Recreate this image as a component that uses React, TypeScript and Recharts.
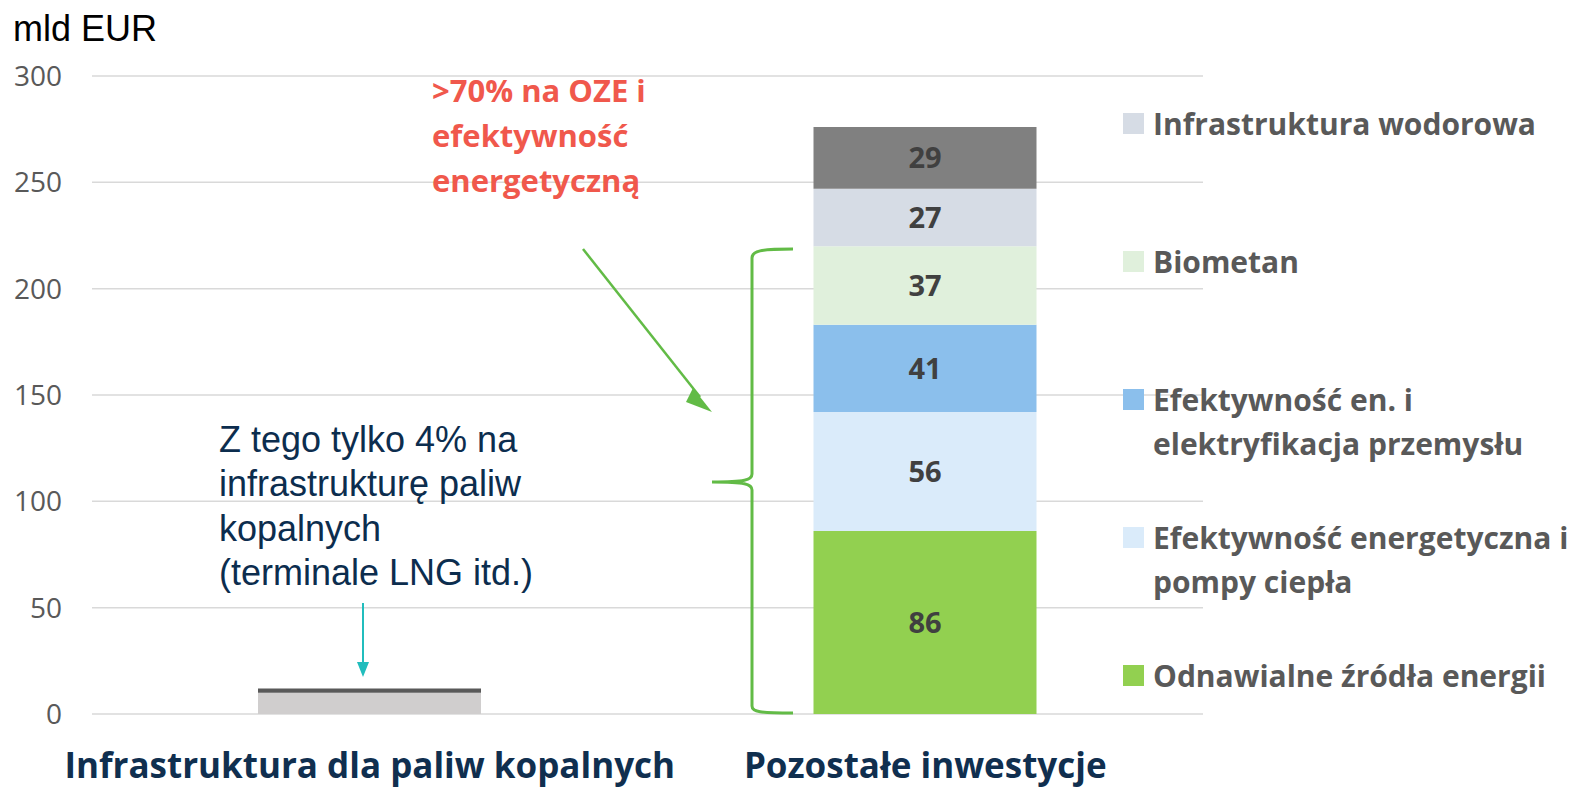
import React from 'react';
import { BarChart, Bar, XAxis, YAxis, CartesianGrid, Legend, LabelList } from 'recharts';

// categories and values (mld EUR)
const categories = ['Infrastruktura dla paliw kopalnych', 'Pozostałe inwestycje'];
const fossilBase = [10, null];
const fossilTop = [2, null];
const oze = [null, 86];
const pompy = [null, 56];
const przemysl = [null, 41];
const biometan = [null, 37];
const wodor = [null, 27];
const inne = [null, 29];
const yTicks = [0, 50, 100, 150, 200, 250, 300];

const seriesNames: Record<string, string> = {
  fossilBase: 'Infrastruktura paliw kopalnych',
  fossilTop: 'Infrastruktura paliw kopalnych (reszta)',
  oze: 'Odnawialne źródła energii',
  pompy: 'Efektywność energetyczna i\npompy ciepła',
  przemysl: 'Efektywność en. i\nelektryfikacja przemysłu',
  biometan: 'Biometan',
  wodor: 'Infrastruktura wodorowa',
  inne: 'Pozostałe',
};

const colors: Record<string, string> = {
  fossilBase: '#D0CECE',
  fossilTop: '#595959',
  oze: '#92D050',
  pompy: '#DAEBFA',
  przemysl: '#8BBFEC',
  biometan: '#E0F0DC',
  wodor: '#D6DCE5',
  inne: '#808080',
};

const stackOrder = ['fossilBase', 'fossilTop', 'oze', 'pompy', 'przemysl', 'biometan', 'wodor', 'inne'];
const legendOrder = ['wodor', 'biometan', 'przemysl', 'pompy', 'oze'];
const labelled = ['oze', 'pompy', 'przemysl', 'biometan', 'wodor', 'inne'];

const data = categories.map((name, i) => ({
  name,
  fossilBase: fossilBase[i],
  fossilTop: fossilTop[i],
  oze: oze[i],
  pompy: pompy[i],
  przemysl: przemysl[i],
  biometan: biometan[i],
  wodor: wodor[i],
  inne: inne[i],
}));

const segmentLabel = (props: any) => {
  const { x, y, width, height, value } = props;
  if (value == null) return null;
  return (
    <text
      x={x + width / 2}
      y={y + height / 2}
      dy="0.36em"
      textAnchor="middle"
      fill="#404040"
      fontFamily="Open Sans"
      fontWeight={700}
      fontSize={29}
    >
      {value}
    </text>
  );
};

const renderLegend = () => (
  <div style={{ fontFamily: 'Open Sans', fontWeight: 700, fontSize: 30, color: '#595959' }}>
    {legendOrder.map((k) => (
      <div key={k} style={{ display: 'flex', height: 138 }}>
        <div style={{ width: 21, height: 21, background: colors[k], marginTop: 11, marginRight: 9, flex: 'none' }} />
        <div style={{ lineHeight: '44px', whiteSpace: 'pre' }}>{seriesNames[k]}</div>
      </div>
    ))}
  </div>
);

export default function App() {
  return (
    <div style={{ position: 'absolute', left: 0, top: 0, width: 1585, height: 788, overflow: 'hidden', background: '#fff' }}>
      <BarChart
        width={1585}
        height={788}
        data={data}
        margin={{ top: 76, right: 382, bottom: 14, left: 12 }}
      >
        <CartesianGrid vertical={false} stroke="#D9D9D9" strokeWidth={1.5} />
        <XAxis
          dataKey="name"
          axisLine={false}
          tickLine={false}
          height={60}
          tickMargin={33}
          interval={0}
          tick={{ fontSize: 35, fontWeight: 700, fill: '#102F4F', fontFamily: 'Open Sans' }}
        />
        <YAxis
          domain={[0, 300]}
          ticks={yTicks}
          width={80}
          axisLine={false}
          tickLine={false}
          tickMargin={24}
          tick={{ fontSize: 28, fill: '#595959', fontFamily: 'Open Sans' }}
        />
        <Legend
          layout="horizontal"
          align="center"
          verticalAlign="middle"
          content={renderLegend}
          wrapperStyle={{ left: 1123, top: 102, width: 462, height: 640 }}
        />
        {stackOrder.map((k) => (
          <Bar
            key={k}
            dataKey={k}
            name={seriesNames[k]}
            stackId="a"
            fill={colors[k]}
            barSize={223}
            legendType={legendOrder.includes(k) ? 'square' : 'none'}
            isAnimationActive={false}
          >
            {labelled.includes(k) && <LabelList dataKey={k} content={segmentLabel} />}
          </Bar>
        ))}
      </BarChart>

      {/* annotations */}
      <svg width={1585} height={788} style={{ position: 'absolute', left: 0, top: 0, pointerEvents: 'none' }}>
        <text x={13} y={41} fontFamily="Liberation Sans, Arial" fontSize={36} fill="#000">mld EUR</text>

        <text fontFamily="Open Sans" fontWeight={700} fontSize={31} fill="#F0584C">
          <tspan x={432} y={102}>&gt;70% na OZE i</tspan>
          <tspan x={432} y={147}>efektywność</tspan>
          <tspan x={432} y={192}>energetyczną</tspan>
        </text>

        <text fontFamily="Liberation Sans, Arial" fontSize={36} fill="#0C2D4E">
          <tspan x={219} y={452}>Z tego tylko 4% na</tspan>
          <tspan x={219} y={496}>infrastrukturę paliw</tspan>
          <tspan x={219} y={541}>kopalnych</tspan>
          <tspan x={219} y={585}>(terminale LNG itd.)</tspan>
        </text>

        <line x1={583} y1={249} x2={700} y2={397} stroke="#62BB46" strokeWidth={2.5} />
        <path d="M 693 388 L 712 412 L 686 402 Z" fill="#62BB46" />

        <path
          d="M 793 249 C 760 249, 752 251, 752 258 L 752 474 C 752 480, 745 482, 712 482 C 745 482, 752 484, 752 490 L 752 706 C 752 712, 760 713, 793 713"
          fill="none"
          stroke="#62BB46"
          strokeWidth={3}
        />

        <line x1={363} y1={603} x2={363} y2={665} stroke="#21BDBD" strokeWidth={2} />
        <path d="M 357 662 L 369 662 L 363 677 Z" fill="#21BDBD" />
      </svg>
    </div>
  );
}
